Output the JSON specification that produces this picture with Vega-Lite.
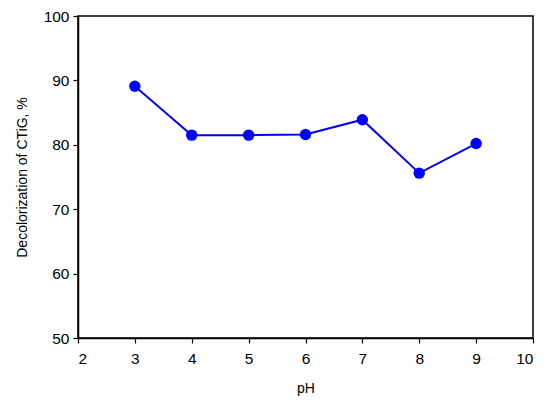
{
  "$schema": "https://vega.github.io/schema/vega-lite/v6.json",
  "width": 455,
  "height": 322,
  "autosize": {"type": "none"},
  "padding": {"left": 78, "top": 16, "right": 17, "bottom": 72},
  "background": "white",
  "config": {
    "view": {"stroke": "black", "strokeWidth": 1.5},
    "font": "Liberation Sans",
    "axis": {
      "grid": false,
      "domainColor": "black",
      "domainWidth": 1.5,
      "tickColor": "black",
      "tickSize": 5,
      "tickWidth": 1.2,
      "labelFont": "Liberation Sans",
      "labelFontSize": 15.5,
      "labelColor": "black",
      "titleFont": "Liberation Sans",
      "titleFontSize": 14,
      "titleFontWeight": "normal",
      "titleColor": "black"
    }
  },
  "data": {
    "values": [
      {"pH": 3, "d": 89.1},
      {"pH": 4, "d": 81.5},
      {"pH": 5, "d": 81.5},
      {"pH": 6, "d": 81.6},
      {"pH": 7, "d": 83.9},
      {"pH": 8, "d": 75.6},
      {"pH": 9, "d": 80.2}
    ]
  },
  "encoding": {
    "x": {
      "field": "pH", "type": "quantitative",
      "scale": {"domain": [2, 10], "nice": false},
      "axis": {"values": [2,3,4,5,6,7,8,9,10], "title": "pH", "labelPadding": 8, "titlePadding": 15}
    },
    "y": {
      "field": "d", "type": "quantitative",
      "scale": {"domain": [50, 100], "nice": false, "zero": false},
      "axis": {"values": [50,60,70,80,90,100], "title": "Decolorization of CTiG, %", "labelPadding": 4, "titlePadding": 14}
    }
  },
  "layer": [
    {"mark": {"type": "line", "color": "#0000ee", "strokeWidth": 2}},
    {"mark": {"type": "point", "filled": true, "color": "#0000ff", "opacity": 1, "size": 130}}
  ]
}
